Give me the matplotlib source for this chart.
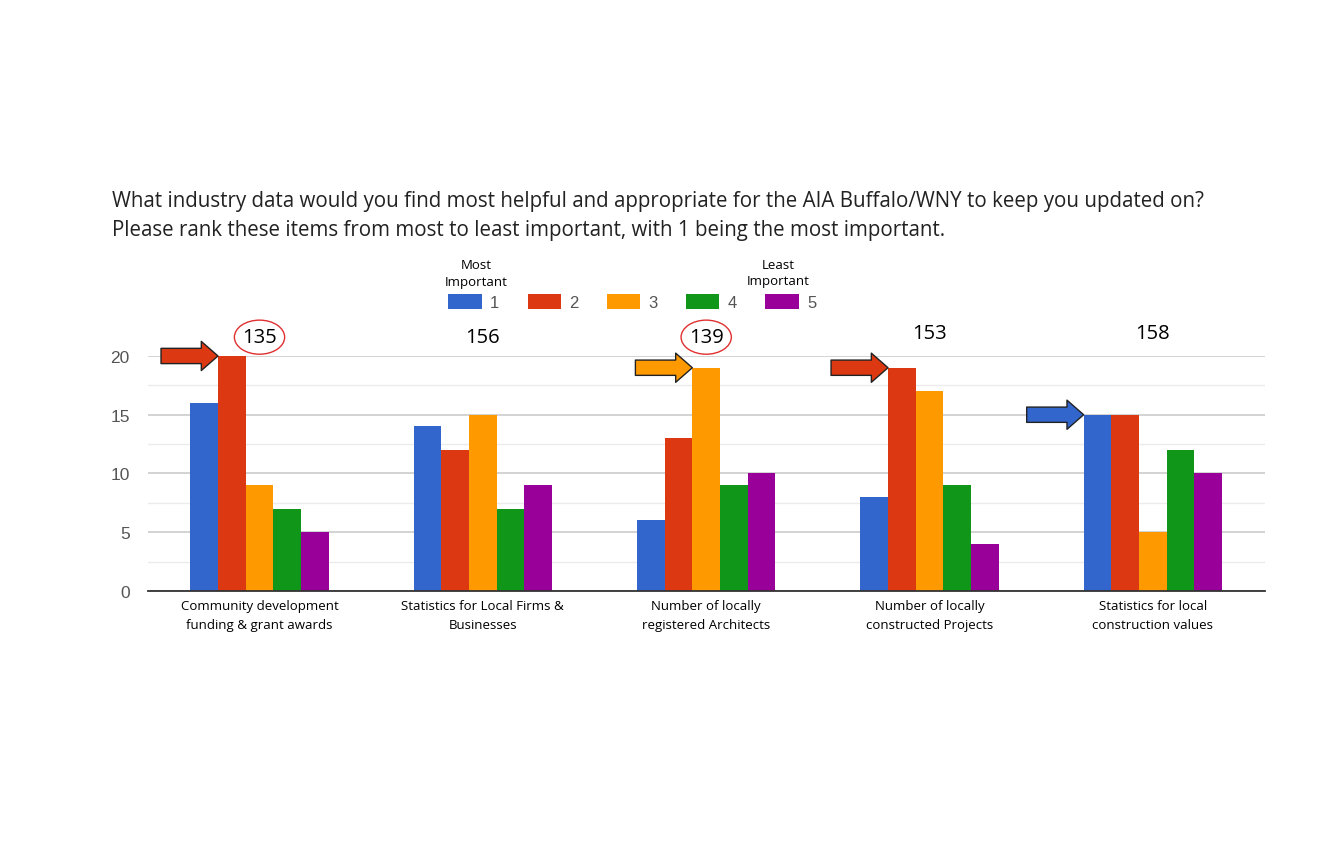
import numpy as np
import matplotlib
matplotlib.use('Agg')
from matplotlib import pyplot as plt
from matplotlib.patches import Ellipse

categories = ['Community development\nfunding & grant awards',
              'Statistics for Local Firms &\nBusinesses',
              'Number of locally\nregistered Architects',
              'Number of locally\nconstructed Projects',
              'Statistics for local\nconstruction values']
rank_labels = ['1', '2', '3', '4', '5']
rank1 = [16, 14, 6, 8, 15]
rank2 = [20, 12, 13, 19, 15]
rank3 = [9, 15, 19, 17, 5]
rank4 = [7, 7, 9, 9, 12]
rank5 = [5, 9, 10, 4, 10]
totals = [135, 156, 139, 153, 158]
circled = [True, False, True, False, False]
# which rank each arrow points at, per category
arrow_rank = [2, None, 3, 2, 1]

colors = ['#3366CC', '#DC3912', '#FF9900', '#109618', '#990099']
series = [rank1, rank2, rank3, rank4, rank5]

fig = plt.figure(figsize=(13.2, 8.54), dpi=100)
ax = fig.add_axes([0.112, 0.3068, 0.846, 0.2752])

x = np.arange(len(categories))
w = 0.124
bars = []
for k, vals in enumerate(series):
    b = ax.bar(x + (k - 2) * w, vals, width=w, color=colors[k], label=rank_labels[k], zorder=3)
    bars.append(b)

ax.set_xlim(-0.5, 4.5)
ax.set_ylim(0, 20)
ax.set_yticks([0, 5, 10, 15, 20])
ax.set_yticks([2.5, 7.5, 12.5, 17.5], minor=True)
ax.grid(axis='y', which='major', color='#cccccc', lw=1.2, zorder=0)
ax.grid(axis='y', which='minor', color='#ebebeb', lw=1.0, zorder=0)
for s in ['top', 'right', 'left']:
    ax.spines[s].set_visible(False)
ax.spines['bottom'].set_color('#333333')
ax.spines['bottom'].set_linewidth(1.3)
ax.spines['bottom'].set_zorder(4)
ax.tick_params(axis='both', which='both', length=0)
ax.tick_params(axis='y', pad=13, labelsize=12.5, labelcolor='#555555')
for t in ax.get_yticklabels():
    t.set_family('Liberation Sans')
ax.set_xticks(x)
ax.set_xticklabels(categories, fontsize=9.5, family='Open Sans', linespacing=1.55)
ax.tick_params(axis='x', pad=6)

# totals above each group
for i, tot in enumerate(totals):
    yy = 21.6 if i < 3 else 21.95
    ax.text(x[i], yy, str(tot), ha='center', va='center', fontsize=14.5,
            family='Open Sans', clip_on=False)
    if circled[i]:
        ax.add_patch(Ellipse((x[i], yy), 0.225, 2.9, fill=False, ec='#e03030',
                             lw=1.0, clip_on=False))

# arrows pointing at the winning bar
for i, r in enumerate(arrow_rank):
    if r is None:
        continue
    val = series[r - 1][i]
    tip = x[i] + (r - 3) * w - w / 2
    ax.annotate('', xy=(tip, val), xytext=(tip - 0.255, val),
                arrowprops=dict(arrowstyle='simple,head_length=0.6,head_width=1.05,tail_width=0.55',
                                mutation_scale=20, fc=colors[r - 1], ec='#222222', lw=1.0,
                                shrinkA=0, shrinkB=0),
                annotation_clip=False)

fig.text(0.085, 0.747, 'What industry data would you find most helpful and appropriate for the AIA Buffalo/WNY to keep you updated on?\n'
         'Please rank these items from most to least important, with 1 being the most important.',
         fontsize=14.8, family='Open Sans', color='#222222', va='center', ha='left', linespacing=1.5)

fig.legend(handles=bars, labels=rank_labels, ncol=5, loc='center', bbox_to_anchor=(0.479, 0.645),
           frameon=False, handlelength=2.0, handleheight=1.0,
           handletextpad=0.5, columnspacing=1.7, prop={'family': 'Liberation Sans', 'size': 12})
leg = fig.legends[0]
for t in leg.get_texts():
    t.set_color('#555555')

fig.text(0.3606, 0.679, 'Most\nImportant', ha='center', va='center', fontsize=9.5,
         family='Open Sans', linespacing=1.35)
fig.text(0.5894, 0.68, 'Least\nImportant', ha='center', va='center', fontsize=9.5,
         family='Open Sans', linespacing=1.35)

fig.savefig('out.png', dpi=100)
